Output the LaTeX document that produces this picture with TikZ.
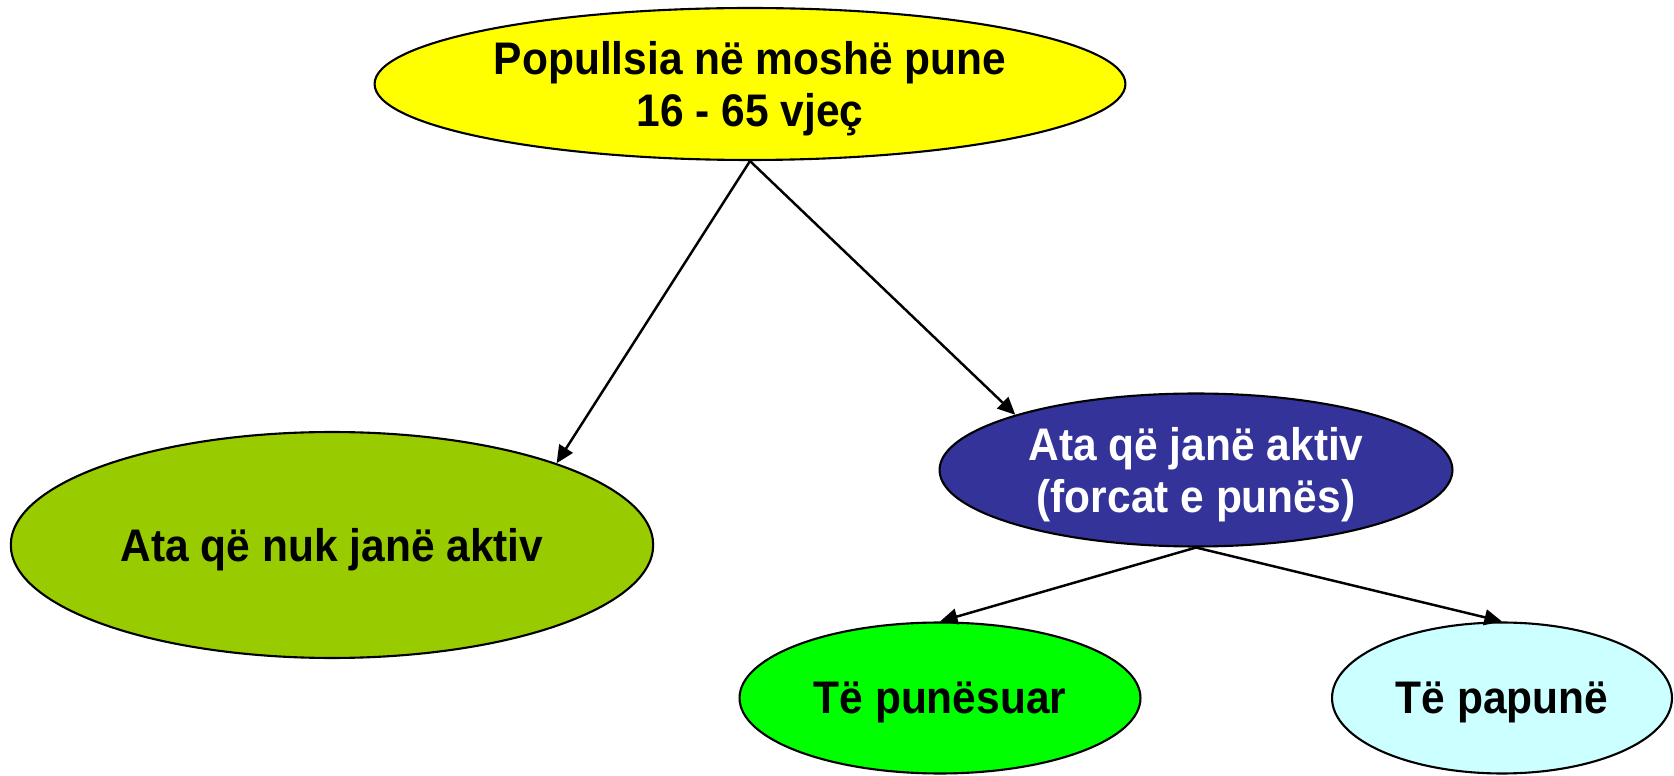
\documentclass[tikz,border=0pt]{standalone}
\usepackage{fontspec}
\setmainfont{Liberation Sans}[FakeStretch=0.93]
\usetikzlibrary{shapes.geometric,arrows.meta}
\definecolor{popyellow}{HTML}{FFFF00}
\definecolor{inactgreen}{HTML}{99CC00}
\definecolor{actblue}{HTML}{333399}
\definecolor{empgreen}{HTML}{00FF00}
\definecolor{unempcyan}{HTML}{CCFFFF}
\begin{document}
\begin{tikzpicture}[x=0.02cm,y=-0.02cm,
  oval/.style={ellipse,draw=black,line width=1.2pt,inner sep=0pt,align=center,text depth=0pt,
    font=\fontsize{26}{30}\selectfont\bfseries},
  link/.style={-{Triangle[length=10pt,width=9pt]},line width=1.4pt}]
\useasboundingbox (0,0) rectangle (1674,776);
\node[oval,fill=popyellow,minimum width=15.02cm,minimum height=3.04cm] (pop) at (750,84) {Popullsia në moshë pune\\16 - 65 vjeç};
\node[oval,fill=inactgreen,minimum width=12.85cm,minimum height=4.52cm] (inactive) at (332,545) {Ata që nuk janë aktiv};
\node[oval,fill=actblue,text=white,minimum width=10.26cm,minimum height=3.06cm] (active) at (1196,470) {Ata që janë aktiv\\(forcat e punës)};
\node[oval,fill=empgreen,minimum width=8.02cm,minimum height=3.02cm] (employed) at (940,698) {Të punësuar};
\node[oval,fill=unempcyan,minimum width=6.8cm,minimum height=3.02cm] (unemployed) at (1502,698) {Të papunë};
\draw[link] (pop.south) -- (inactive.20);
\draw[link] (pop.south) -- (active.163);
\draw[link] (active.south) -- (employed.north);
\draw[link] (active.south) -- (unemployed.north);
\end{tikzpicture}
\end{document}
